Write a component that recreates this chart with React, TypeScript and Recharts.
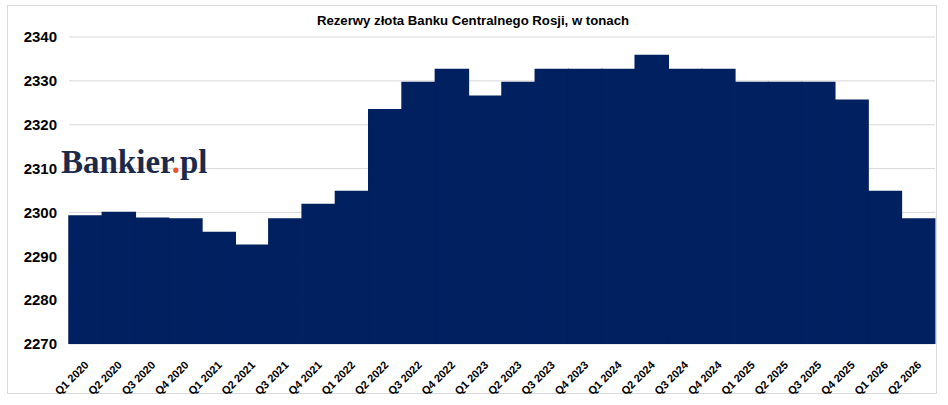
import React from "react";
import { BarChart, Bar, XAxis, YAxis, CartesianGrid, Customized } from "recharts";

const quarters = [
  "Q1 2020", "Q2 2020", "Q3 2020", "Q4 2020",
  "Q1 2021", "Q2 2021", "Q3 2021", "Q4 2021",
  "Q1 2022", "Q2 2022", "Q3 2022", "Q4 2022",
  "Q1 2023", "Q2 2023", "Q3 2023", "Q4 2023",
  "Q1 2024", "Q2 2024", "Q3 2024", "Q4 2024",
  "Q1 2025", "Q2 2025", "Q3 2025", "Q4 2025",
  "Q1 2026", "Q2 2026",
];

const reserves = [
  2299.2, 2300.0, 2298.7, 2298.5,
  2295.4, 2292.5, 2298.5, 2301.8,
  2304.8, 2323.4, 2329.6, 2332.6,
  2326.5, 2329.6, 2332.6, 2332.6,
  2332.6, 2335.8, 2332.6, 2332.6,
  2329.6, 2329.6, 2329.6, 2325.6,
  2304.8, 2298.5,
];

const yTicks = [2270, 2280, 2290, 2300, 2310, 2320, 2330, 2340];

const title = "Rezerwy złota Banku Centralnego Rosji, w tonach";

const data = quarters.map((q, i) => ({ quarter: q, value: reserves[i] }));

const XTick = (props: any) => {
  const { x, y, payload } = props;
  return (
    <text
      x={0}
      y={0}
      transform={`translate(${x + 1},${y + 11}) rotate(-45)`}
      textAnchor="end"
      dy="0.35em"
      fontFamily="Arial, 'Liberation Sans', sans-serif"
      fontWeight="bold"
      fontSize={11}
      fill="#000"
    >
      {payload.value}
    </text>
  );
};

const Overlay = () => (
  <g>
    <text
      x={473}
      y={20}
      textAnchor="middle"
      dominantBaseline="central"
      fontFamily="Arial, 'Liberation Sans', sans-serif"
      fontWeight="bold"
      fontSize={13.2}
      fill="#000"
    >
      {title}
    </text>
    <text
      x={61}
      y={173}
      fontFamily="'Liberation Serif', 'Times New Roman', serif"
      fontWeight="bold"
      fontSize={33}
      fill="#1b2a4a"
    >
      <tspan>Bankier</tspan>
      <tspan fill="#e8542a">.</tspan>
      <tspan>pl</tspan>
    </text>
  </g>
);

export default function App() {
  return (
    <div style={{ position: "absolute", left: 0, top: 0, width: 948, height: 405, background: "#fff" }}>
      <div
        style={{
          position: "absolute",
          left: 7,
          top: 5,
          width: 928,
          height: 387,
          border: "1px solid #d9d9d9",
          boxSizing: "content-box",
        }}
      />
      <div style={{ position: "absolute", left: 0, top: 0 }}>
        <BarChart
          width={948}
          height={405}
          data={data}
          margin={{ top: 37, right: 13, bottom: 0, left: 0 }}
          barCategoryGap={0}
          barGap={0}
        >
          <CartesianGrid vertical={false} stroke="#d9d9d9" strokeWidth={1} />
          <XAxis
            dataKey="quarter"
            height={61}
            axisLine={false}
            tickLine={false}
            interval={0}
            tick={<XTick />}
          />
          <YAxis
            width={69}
            domain={[2270, 2340]}
            ticks={yTicks}
            axisLine={false}
            tickLine={false}
            tickSize={0}
            tickMargin={12}
            allowDataOverflow
            tick={{
              fontFamily: "Arial, 'Liberation Sans', sans-serif",
              fontWeight: "bold",
              fontSize: 15,
              fill: "#000",
            }}
          />
          <Bar
            dataKey="value"
            fill="#002060"
            stroke="#002060"
            strokeWidth={1.5}
            isAnimationActive={false}
          />
          <Customized component={Overlay} />
        </BarChart>
      </div>
    </div>
  );
}
